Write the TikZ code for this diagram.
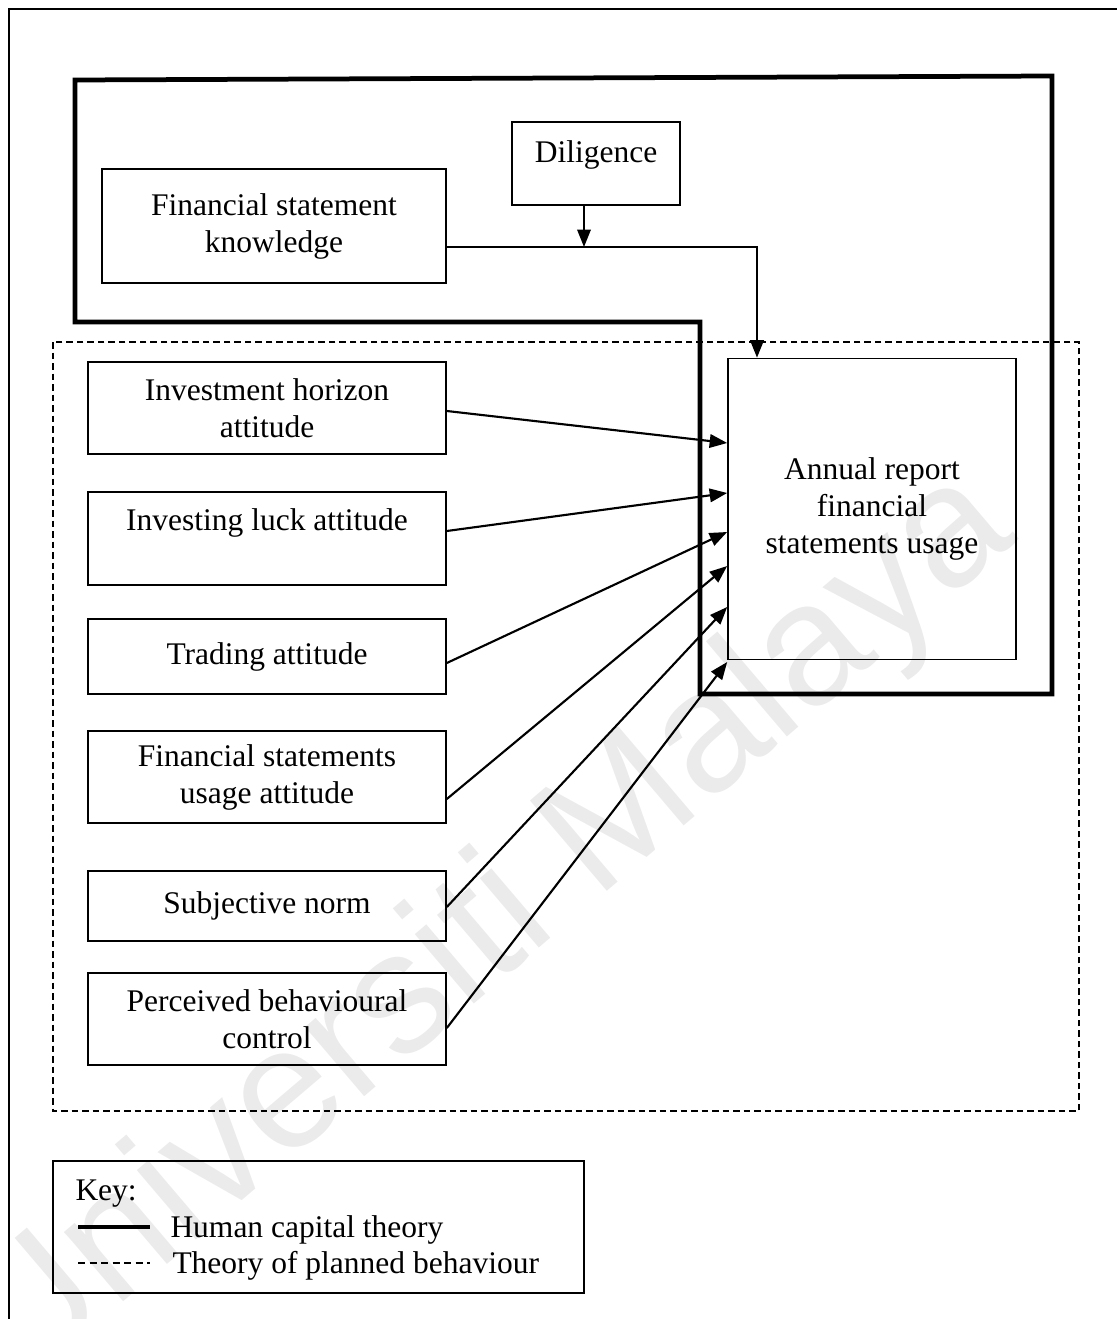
\documentclass[tikz,border=0pt]{standalone}
\usepackage{fontspec}
\setmainfont{Liberation Serif}
\newfontfamily\wmfont{Liberation Sans}
\usetikzlibrary{arrows.meta}
\begin{document}
\begin{tikzpicture}[x=0.4pt,y=-0.4pt,
  font=\fontsize{12.6}{14.8}\selectfont,
  box/.style={draw,line width=0.65pt,inner sep=0pt,align=center},
  lbox/.style={box,minimum width=143.2pt},
  arr/.style={line width=0.85pt,-{Triangle[length=7pt,width=5.4pt]}},
  hct/.style={line width=1.9pt,line join=miter},
  tpb/.style={line width=0.8pt,dash pattern=on 2.6pt off 1.6pt},
  frame/.style={line width=0.6pt}]
\useasboundingbox (0,0) rectangle (1117,1319);
% watermark
\node[rotate=40.4,text=black!8,font=\wmfont\fontsize{69}{69}\selectfont,anchor=base] (wm) at (520,965) {Universiti Malaya};
% page frame
\coordinate (pfa) at (9,1319);
\coordinate (pfb) at (9,9);
\coordinate (pfc) at (1117,9);
\draw[frame] (pfa) -- (pfb) -- (pfc);
% theory frames
\draw[hct] (75,80) -- (1052,76) -- (1052,694) -- (700,694) -- (700,322) -- (75,322) -- cycle;
\draw[tpb] (53,342) rectangle (1079,1111);
% nodes
\node[box,minimum width=137.6pt,minimum height=45.6pt] (fsk) at (274,226) {Financial statement\\knowledge};
\node[box,minimum width=67.2pt,minimum height=33.2pt,text height=8.5pt,text depth=9.7pt] (dil) at (596,163.5) {Diligence};
\node[box,minimum width=115.2pt,minimum height=120.4pt] (ann) at (872,509) {Annual report\\financial\\statements usage};
\node[lbox,minimum height=36.8pt] (ih) at (267,408) {Investment horizon\\attitude};
\node[lbox,minimum height=37.2pt] (il) at (267,538.5) {Investing luck attitude\\\mbox{}};
\node[lbox,minimum height=30pt] (tr) at (267,656.5) {Trading attitude};
\node[lbox,minimum height=36.8pt] (fsu) at (267,777) {Financial statements\\usage attitude};
\node[lbox,minimum height=28pt] (sn) at (267,906) {Subjective norm};
\node[lbox,minimum height=36.8pt] (pbc) at (267,1019) {Perceived behavioural\\control};
% connectors
\coordinate (j) at (584,247);
\coordinate (k) at (757,247);
\draw[arr] (dil.south -| j) -- (j);
\draw[arr] (fsk.east |- k) -- (k) -- (ann.north -| k);
\draw[arr] (ih.east |- 0,411) -- (ann.west |- 0,443);
\draw[arr] (il.east |- 0,531) -- (ann.west |- 0,493);
\draw[arr] (tr.east |- 0,663) -- (ann.west |- 0,532);
\draw[arr] (fsu.east |- 0,799) -- (ann.west |- 0,566);
\draw[arr] (sn.east |- 0,907) -- (ann.west |- 0,607);
\draw[arr] (pbc.east |- 0,1028) -- (ann.west |- 0,662);
% key
\node[box,minimum width=212.4pt,minimum height=52.8pt] (key) at (318.5,1227) {};
\node[anchor=base west,inner sep=0pt] (keyt) at (75,1200) {Key:};
\node[anchor=base west,inner sep=0pt] (k1) at (170,1237) {Human capital theory};
\node[anchor=base west,inner sep=0pt] (k2) at (172,1273) {Theory of planned behaviour};
\coordinate (l1a) at (78,1227);
\coordinate (l1b) at (150,1227);
\coordinate (l2a) at (78,1263);
\coordinate (l2b) at (150,1263);
\draw[line width=1.7pt] (l1a) -- (l1b);
\draw[line width=0.6pt,dash pattern=on 2.8pt off 1.8pt] (l2a) -- (l2b);
\end{tikzpicture}
\end{document}
